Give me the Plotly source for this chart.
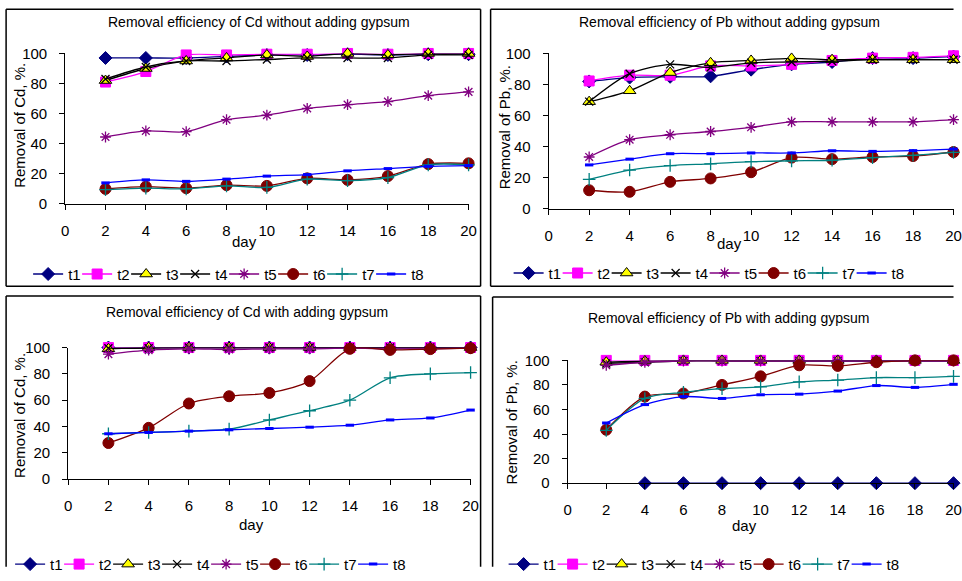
import plotly.graph_objects as go

DAYS = [2, 4, 6, 8, 10, 12, 14, 16, 18, 20]
SERIES = ["t1", "t2", "t3", "t4", "t5", "t6", "t7", "t8"]
X_TICKS = [0, 2, 4, 6, 8, 10, 12, 14, 16, 18, 20]
Y_TICKS = [0, 20, 40, 60, 80, 100]

# Cd without gypsum
CD_NO_T1 = [97, 97, 97, 98, 99, 99, 99.5, 99, 99.5, 99.5]
CD_NO_T2 = [81, 88, 99, 99, 99.5, 99.5, 100, 99.5, 100, 100]
CD_NO_T3 = [82, 90, 95, 97, 99, 98, 100, 99, 100, 100]
CD_NO_T4 = [83, 91, 95, 95, 96, 97, 97, 97, 99, 99]
CD_NO_T5 = [44.5, 48.5, 48, 56, 59, 63.5, 66, 68, 72, 74.5]
CD_NO_T6 = [10, 11.5, 10.5, 12.5, 12, 17, 16, 18.5, 26.5, 27]
CD_NO_T7 = [9.5, 10.5, 10, 12, 11, 16.5, 15.5, 17.5, 26, 26]
CD_NO_T8 = [14, 16, 15, 16.5, 18.5, 19.5, 22, 23.5, 25, 25.5]

# Pb without gypsum
PB_NO_T1 = [82, 84.5, 85, 85.3, 89.6, 93, 94.5, 97, 97, 98]
PB_NO_T2 = [82.3, 86, 86, 92, 92, 93, 95.5, 97, 97.5, 98.5]
PB_NO_T3 = [69, 76, 87.7, 94, 95.5, 96.8, 96, 96, 96, 96]
PB_NO_T4 = [69, 87, 93, 91, 94, 94.5, 95, 96, 96, 96]
PB_NO_T5 = [33.4, 44.5, 47.7, 49.8, 52.5, 56, 56, 56, 56, 57.4]
PB_NO_T6 = [12, 11, 17.4, 19.6, 23.6, 33, 32, 33.4, 34, 36.6]
PB_NO_T7 = [19, 25, 27.9, 29, 30.4, 30.9, 31.3, 33, 34.5, 36.4]
PB_NO_T8 = [28.3, 32, 35.5, 35.5, 36, 36, 37.4, 37, 37.5, 38.5]

# Cd with gypsum
CD_GY_T1 = [100, 100, 100, 100, 100, 100, 100, 100, 100, 100]
CD_GY_T2 = [100, 100, 100, 100, 100, 100, 100, 100, 100, 100]
CD_GY_T3 = [99, 100, 100, 100, 100, 100, 100, 100, 100, 100]
CD_GY_T4 = [99.5, 99.5, 100, 100, 100, 100, 100, 100, 100, 99.5]
CD_GY_T5 = [95, 98, 99, 98.5, 99, 99, 99.5, 99, 99, 99.5]
CD_GY_T6 = [27.5, 39, 57.5, 63, 65.5, 74.5, 99, 98.2, 98.8, 99.5]
CD_GY_T7 = [34.5, 35.5, 36.5, 38, 45, 52, 60, 77, 80, 81]
CD_GY_T8 = [34.5, 35.5, 36.5, 37.5, 38.5, 39.5, 41, 45, 46.5, 52.5]

# Pb with gypsum
PB_GY_T1 = [None, 0, 0, 0, 0, 0, 0, 0, 0, 0]
PB_GY_T2 = [100, 100, 100, 100, 100, 100, 100, 100, 100, 100]
PB_GY_T3 = [98.5, 99.5, 100, 100, 100, 100, 100, 100, 100, 100]
PB_GY_T4 = [97.5, 98.5, 99.5, 99.5, 99.5, 99.5, 99.5, 99.5, 99.5, 99.5]
PB_GY_T5 = [96, 98.5, 99.5, 99.5, 99.5, 99.5, 99.5, 99.5, 99.5, 99.5]
PB_GY_T6 = [43.5, 70.5, 73, 80, 87, 96, 95.5, 98.5, 100, 100]
PB_GY_T7 = [43, 69, 74, 77, 78.5, 82.5, 84, 86, 86, 87]
PB_GY_T8 = [49, 64, 70.5, 69, 72, 72.5, 75, 79.5, 78, 80.5]

W, H = 962, 581
FONT = "Liberation Sans, Arial, sans-serif"

# target pixel -> paper fraction (with a small correction for the page framing)
def fx(x):
    return min(max(((x - 3.9) / 0.9865) / W, 0.0005), 0.9995)

def fy(y):
    return min(max(1 - ((y - 7.1) / 0.970) / H, 0.0005), 0.9995)

STYLES = [
    dict(color="#000080", symbol="diamond", size=10, lc="#000080", lw=1),
    dict(color="#FF00FF", symbol="square", size=10, lc="#FF00FF", lw=1),
    dict(color="#FFFF00", symbol="triangle-up", size=11, lc="#000000", lw=1),
    dict(color="#000000", symbol="x-thin", size=8, lc="#000000", lw=1.3),
    dict(color="#800080", symbol="asterisk", size=9, lc="#800080", lw=1.3),
    dict(color="#800000", symbol="circle", size=11, lc="#800000", lw=1),
    dict(color="#008080", symbol="cross-thin", size=9, lc="#008080", lw=1.3),
    dict(color="#0000FF", symbol="line-ew", size=6, lc="#0000FF", lw=3),
]
LINE_COLORS = ["#000080", "#FF00FF", "#000000", "#000000", "#800080", "#800000", "#008080", "#0000FF"]

# box sides: (left, top, right, bottom) ; None = side outside picture
panels = [
    dict(title="Removal efficiency of Cd without adding gypsum", ylab="Removal of Cd, %.",
         data=[CD_NO_T1, CD_NO_T2, CD_NO_T3, CD_NO_T4, CD_NO_T5, CD_NO_T6, CD_NO_T7, CD_NO_T8],
         xd=(65, 468), yd=(204, 52), tpos=(259, 20), ypos=(20, 125), dpos=(244, 242), leg=(28, 275),
         box=(6, 5, 480, 287)),
    dict(title="Removal efficiency of Pb without adding gypsum", ylab="Removal of Pb, %.",
         data=[PB_NO_T1, PB_NO_T2, PB_NO_T3, PB_NO_T4, PB_NO_T5, PB_NO_T6, PB_NO_T7, PB_NO_T8],
         xd=(548, 955), yd=(209, 52), tpos=(729, 20), ypos=(504, 127), dpos=(729, 244), leg=(508, 274),
         box=(490, 5, None, 287)),
    dict(title="Removal efficiency of Cd with adding gypsum", ylab="Removal of Cd, %.",
         data=[CD_GY_T1, CD_GY_T2, CD_GY_T3, CD_GY_T4, CD_GY_T5, CD_GY_T6, CD_GY_T7, CD_GY_T8],
         xd=(68, 470), yd=(482, 349), tpos=(247, 313), ypos=(20, 418), dpos=(251, 528), leg=(10, 568),
         box=(6, 297, 480, None)),
    dict(title="Removal efficiency of Pb with adding gypsum", ylab="Removal of Pb, %.",
         data=[PB_GY_T1, PB_GY_T2, PB_GY_T3, PB_GY_T4, PB_GY_T5, PB_GY_T6, PB_GY_T7, PB_GY_T8],
         xd=(567, 955), yd=(486, 362), tpos=(728, 319), ypos=(511, 425), dpos=(744, 529), leg=(503, 568),
         box=(492, 298, None, None)),
]

fig = go.Figure()
layout = dict(width=W, height=H, autosize=False, margin=dict(l=0, r=0, t=0, b=0, pad=0),
              paper_bgcolor="white", plot_bgcolor="white",
              font=dict(family=FONT, color="black", size=14),
              annotations=[], shapes=[])

def seg(xa, ya, xb, yb):
    return dict(type="line", xref="paper", yref="paper", x0=fx(xa), y0=fy(ya), x1=fx(xb), y1=fy(yb),
                line=dict(color="black", width=1.5), layer="below")

for i, p in enumerate(panels):
    k = "" if i == 0 else str(i + 1)
    xa, ya = "x" + k, "y" + k
    leg = "legend" + k
    for j, name in enumerate(SERIES):
        s = STYLES[j]
        fig.add_trace(go.Scatter(
            x=DAYS, y=p["data"][j], name=name, xaxis=xa, yaxis=ya, legend=leg,
            mode="lines+markers", cliponaxis=False,
            legendwidth=16 if j == len(SERIES) - 1 else None,
            line=dict(color=LINE_COLORS[j], width=1.3, shape="spline", smoothing=0.8),
            marker=dict(symbol=s["symbol"], size=s["size"], color=s["color"],
                        line=dict(color=s["lc"], width=s["lw"])),
        ))
    x0, x1 = p["xd"]
    y0, y1 = p["yd"]
    layout["xaxis" + k] = dict(domain=[fx(x0), fx(x1)], anchor=ya, range=[0, 20],
                               tickvals=X_TICKS, ticks="outside", ticklen=5, tickcolor="black",
                               showline=True, linecolor="black", linewidth=1, showgrid=False,
                               zeroline=False, tickfont=dict(size=15), ticklabelstandoff=8)
    layout["yaxis" + k] = dict(domain=[fy(y0), fy(y1)], anchor=xa, range=[0, 100],
                               tickvals=Y_TICKS, ticks="outside", ticklen=5, tickcolor="black",
                               showline=True, linecolor="black", linewidth=1, showgrid=False,
                               zeroline=False, tickfont=dict(size=15), ticklabelstandoff=9)
    layout[leg] = dict(orientation="h", x=fx(p["leg"][0]), y=fy(p["leg"][1]), xanchor="left",
                       yanchor="middle", entrywidth=4, entrywidthmode="pixels",
                       font=dict(size=15), bgcolor="rgba(0,0,0,0)", itemwidth=30,
                       tracegroupgap=0)
    layout["annotations"] += [
        dict(text=p["title"], x=fx(p["tpos"][0]), y=fy(p["tpos"][1]), xref="paper", yref="paper",
             showarrow=False, xanchor="center", yanchor="middle", font=dict(size=14)),
        dict(text=p["ylab"], x=fx(p["ypos"][0]), y=fy(p["ypos"][1]), xref="paper", yref="paper",
             showarrow=False, xanchor="center", yanchor="middle", textangle=-90, font=dict(size=15)),
        dict(text="day", x=fx(p["dpos"][0]), y=fy(p["dpos"][1]), xref="paper", yref="paper",
             showarrow=False, xanchor="center", yanchor="middle", font=dict(size=15)),
    ]
    bl, bt, br, bb = p["box"]
    r_edge = br if br is not None else W
    b_edge = bb if bb is not None else H
    layout["shapes"].append(seg(bl, bt, bl, b_edge))
    layout["shapes"].append(seg(bl, bt, r_edge, bt))
    if br is not None:
        layout["shapes"].append(seg(br, bt, br, b_edge))
    if bb is not None:
        layout["shapes"].append(seg(bl, bb, r_edge, bb))

fig.update_layout(**layout)
fig.write_html("out.html", config={"responsive": False, "displayModeBar": False},
               post_script="document.body.style.margin='0';document.body.style.overflow='hidden';")
